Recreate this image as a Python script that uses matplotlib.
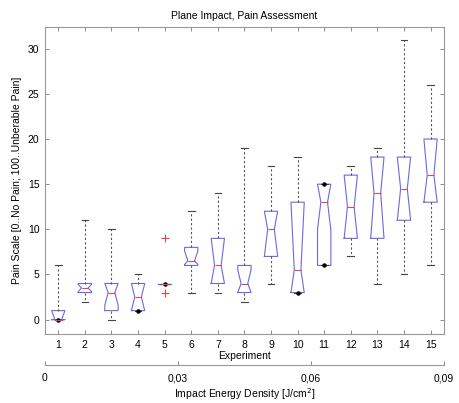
import numpy as np
import matplotlib
matplotlib.use("Agg")
import matplotlib.pyplot as plt

plt.rcParams['font.family'] = ['Liberation Sans', 'DejaVu Sans']

experiments = list(range(1, 16))
q1 = [0, 3, 1, 1, 4, 6, 4, 3, 7, 3, 6, 9, 9, 11, 13]
median = [0, 3.5, 3, 2.5, 4, 6.5, 6, 4, 10, 5.5, 13, 12.5, 14, 14.5, 16]
q3 = [1, 4, 4, 4, 4, 8, 9, 6, 12, 13, 15, 16, 18, 18, 20]
whisker_low = [0, 2, 0, 1, 4, 3, 3, 2, 4, 3, 6, 7, 4, 5, 6]
whisker_high = [6, 11, 10, 5, 4, 12, 14, 19, 17, 18, 15, 17, 19, 31, 26]
notch_low = [0, 3.1, 1.6, 1, 4, 6.1, 4, 3, 7, 3, 10, 9, 9, 11, 13]
notch_high = [1, 3.9, 4, 4, 4, 7.6, 9, 5.5, 12, 13, 15, 16, 18, 18, 20]

outlier_x = [5, 5]
outlier_y = [9, 3]
dot_x = [1, 4, 5, 10, 11, 11]
dot_y = [0, 1, 4, 3, 15, 6]

energy_ticks = [0, 0.03, 0.06, 0.09]
energy_labels = ['0', '0,03', '0,06', '0,09']

stats = []
for i in range(len(experiments)):
    stats.append({
        'med': median[i], 'q1': q1[i], 'q3': q3[i],
        'whislo': whisker_low[i], 'whishi': whisker_high[i],
        'cilo': notch_low[i], 'cihi': notch_high[i], 'fliers': [],
    })

fig = plt.figure(figsize=(4.59, 4.03), dpi=100)
ax = fig.add_axes([0.098, 0.171, 0.869, 0.762])

ax.bxp(stats, positions=experiments, widths=0.5, shownotches=True,
       showfliers=False, capwidths=0.25,
       boxprops=dict(color='#6a6ae0', lw=0.8),
       medianprops=dict(color='#e04848', lw=0.8),
       whiskerprops=dict(color='#555555', lw=0.8, linestyle=(0, (2, 2))),
       capprops=dict(color='#444444', lw=0.8))

ax.plot(outlier_x, outlier_y, '+', color='#e04848', ms=6, mew=0.8)
ax.plot(dot_x, dot_y, 'o', color='black', ms=2.2)

ax.set_xlim(0.5, 15.5)
ax.set_ylim(-1.6, 32.4)
ax.set_xticks(experiments)
ax.set_yticks([0, 5, 10, 15, 20, 25, 30])
ax.tick_params(direction='in', top=True, right=True, length=3, width=0.6,
               color='#777777', labelsize=7.5, pad=4)
for s in ax.spines.values():
    s.set_color('#999999')
    s.set_linewidth(0.8)

ax.set_title('Plane Impact, Pain Assessment', fontsize=7.5, pad=6)
ax.set_xlabel('Experiment', fontsize=7.5, labelpad=1)
ax.set_ylabel('Pain Scale [0..No Pain; 100..Unberable Pain]', fontsize=7.5,
              labelpad=4)

ax2 = fig.add_axes([0.098, 0.094, 0.869, 0.0])
ax2.set_xlim(0, 0.09)
ax2.set_xticks(energy_ticks)
ax2.set_xticklabels(energy_labels)
ax2.set_yticks([])
for side in ['top', 'left', 'right']:
    ax2.spines[side].set_visible(False)
ax2.spines['bottom'].set_color('#999999')
ax2.spines['bottom'].set_linewidth(0.8)
ax2.tick_params(axis='x', direction='in', length=3, width=0.6,
                color='#777777', labelsize=7.5, pad=6)
ax2.set_xlabel('Impact Energy Density [J/cm$^2$]', fontsize=7.5, labelpad=2)

fig.savefig('out.png', dpi=100)
